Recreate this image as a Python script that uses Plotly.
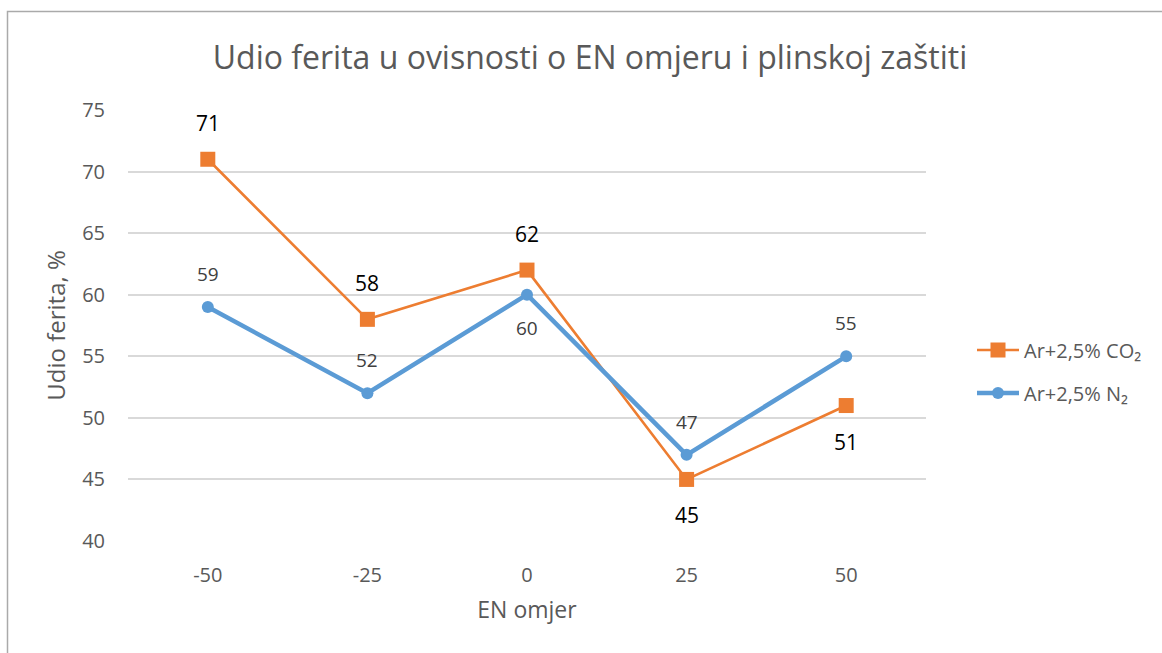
import plotly.graph_objects as go

# EN ratio categories and ferrite share (%) per shielding gas
en_ratio = ["-50", "-25", "0", "25", "50"]
ferrite_co2 = [71, 58, 62, 45, 51]
ferrite_n2 = [59, 52, 60, 47, 55]
y_ticks = [40, 45, 50, 55, 60, 65, 70, 75]

# label placement per point: +1 above, -1 below
co2_label_side = [1, 1, 1, -1, -1]
n2_label_side = [1, 1, -1, 1, 1]

ORANGE = "#ED7D31"
BLUE = "#5B9BD5"
GREY_TEXT = "#595959"
FONT = "'Open Sans', sans-serif"

xs = list(range(len(en_ratio)))

fig = go.Figure()
fig.add_trace(go.Scatter(
    x=xs, y=ferrite_co2, mode="lines+markers", name="Ar+2,5% CO₂",
    line=dict(color=ORANGE, width=2.6),
    marker=dict(symbol="square", size=15, color=ORANGE),
    legend="legend",
))
fig.add_trace(go.Scatter(
    x=xs, y=ferrite_n2, mode="lines+markers", name="Ar+2,5% N₂",
    line=dict(color=BLUE, width=4.5),
    marker=dict(symbol="circle", size=12, color=BLUE),
    legend="legend2",
))

annotations = []
for x, v, s in zip(xs, ferrite_co2, co2_label_side):
    annotations.append(dict(x=x, y=v, text=str(v), showarrow=False,
                            yshift=36 * s, font=dict(size=21, color="#000000", family=FONT)))
for x, v, s in zip(xs, ferrite_n2, n2_label_side):
    annotations.append(dict(x=x, y=v, text=str(v), showarrow=False,
                            yshift=33 * s, font=dict(size=19, color="#404040", family=FONT)))

# outer chart border
pw, ph = 1162 - 128 - 236, 653 - 110 - 112
shapes = [dict(type="rect", xref="paper", yref="paper",
               x0=(7.5 - 128) / pw, x1=1.5,
               y0=-0.6, y1=(541 - 11.5) / ph,
               line=dict(color="#AAAAAA", width=1.5), fillcolor="rgba(0,0,0,0)",
               layer="below")]

legend_style = dict(xanchor="left", yanchor="middle", itemwidth=42,
                    font=dict(size=20, color=GREY_TEXT, family=FONT),
                    bgcolor="rgba(0,0,0,0)")

fig.update_layout(
    width=1162, height=653,
    margin=dict(l=128, r=236, t=110, b=112),
    paper_bgcolor="white", plot_bgcolor="white",
    font=dict(family=FONT, color=GREY_TEXT),
    title=dict(text="Udio ferita u ovisnosti o EN omjeru i plinskoj zaštiti",
               x=590 / 1162, xanchor="center", y=1 - 58 / 653, yanchor="middle",
               font=dict(size=32, color=GREY_TEXT, family=FONT)),
    xaxis=dict(range=[-0.5, 4.5], tickvals=xs, ticktext=en_ratio,
               showgrid=False, zeroline=False, showline=False,
               ticks="", ticklen=0, tickfont=dict(size=20, color=GREY_TEXT),
               ticklabelstandoff=20,
               title=dict(text="EN omjer", font=dict(size=23, color=GREY_TEXT), standoff=14)),
    yaxis=dict(range=[40, 75], tickvals=y_ticks, showgrid=True, gridcolor="#D9D9D9",
               gridwidth=1.5, zeroline=False, showline=False, ticks="",
               tickfont=dict(size=20, color=GREY_TEXT), ticklabelstandoff=22,
               title=dict(text="Udio ferita, %", font=dict(size=24, color=GREY_TEXT), standoff=9)),
    legend=dict(x=(972 - 128) / pw, y=(541 - 350) / ph, **legend_style),
    legend2=dict(x=(972 - 128) / pw, y=(541 - 393) / ph, **legend_style),
    annotations=annotations,
    shapes=shapes,
    showlegend=True,
)

fig.write_html("out.html")
